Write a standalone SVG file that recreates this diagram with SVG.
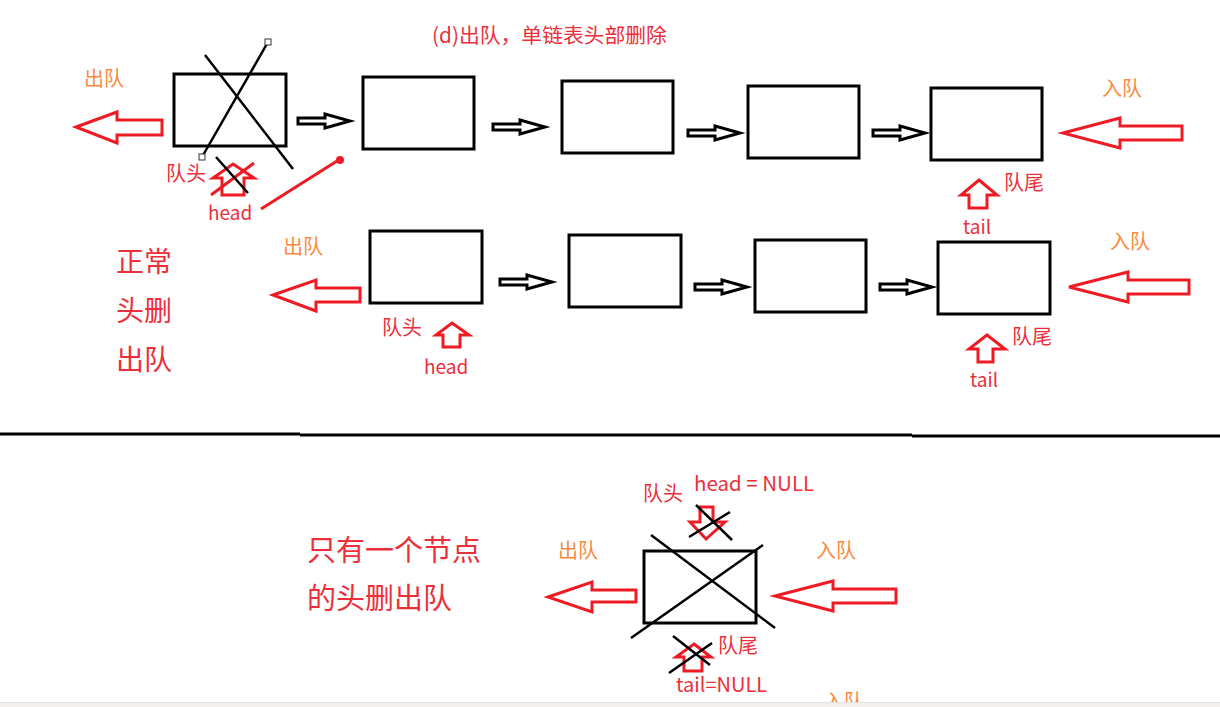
<svg xmlns="http://www.w3.org/2000/svg" xmlns:xlink="http://www.w3.org/1999/xlink" width="1220" height="707" viewBox="0 0 1220 707">
<style>
.box{fill:none;stroke:#000;stroke-width:3}
.barr{fill:#fff;stroke:#000;stroke-width:3;stroke-linejoin:miter}
.rarr{fill:#fff;stroke:#ed1c24;stroke-width:3;stroke-linejoin:miter}
.xl{stroke:#000;stroke-width:2.5;fill:none}
.rl{stroke:#ed1c24;stroke-width:3;fill:none}
.t{font-family:"Noto Sans CJK SC","Noto Sans",sans-serif}
.red{fill:#ec2f3b}
.org{fill:#fb8a3e}
.handle{fill:#fff;stroke:#333;stroke-width:1}
</style>
<defs>
<path id="barrow" d="M0,-3 H27 V-7 L52,0 L27,7 V3 H0 Z"/>
</defs>
<rect x="0" y="0" width="1220" height="707" fill="#fff"/>

<text id="title" class="t red" x="432" y="43" font-size="20.8">(d)出队，单链表头部删除</text>

<g id="row1-n1">
<rect class="box" x="174" y="74" width="112" height="72"/>
<line class="xl" x1="205" y1="55" x2="293" y2="169"/>
<line class="xl" x1="268" y1="42" x2="202" y2="157"/>
<rect class="handle" x="265" y="39" width="6" height="6"/>
<rect class="handle" x="199" y="154" width="6" height="6"/>
</g>
<g id="row1-n2"><rect class="box" x="363" y="77" width="111" height="72"/></g>
<g id="row1-n3"><rect class="box" x="562" y="81" width="111" height="72"/></g>
<g id="row1-n4"><rect class="box" x="748" y="86" width="111" height="72"/></g>
<g id="row1-n5"><rect class="box" x="931" y="88" width="111" height="72"/></g>

<g id="row2-n1"><rect class="box" x="370" y="231" width="112" height="72"/></g>
<g id="row2-n2"><rect class="box" x="569" y="235" width="112" height="72"/></g>
<g id="row2-n3"><rect class="box" x="755" y="240" width="111" height="72"/></g>
<g id="row2-n4"><rect class="box" x="938" y="242" width="112" height="72"/></g>

<g id="row3-n1">
<rect class="box" x="644" y="551" width="112" height="72"/>
<line class="xl" x1="651" y1="535" x2="775" y2="628"/>
<line class="xl" x1="631" y1="638" x2="763" y2="545"/>
</g>

<g id="connectors">
<use href="#barrow" class="barr" x="298" y="121"/>
<use href="#barrow" class="barr" x="493" y="127"/>
<use href="#barrow" class="barr" x="688" y="133"/>
<use href="#barrow" class="barr" x="873" y="133"/>
<use href="#barrow" class="barr" x="500" y="282"/>
<use href="#barrow" class="barr" x="695" y="287"/>
<use href="#barrow" class="barr" x="880" y="287"/>
</g>

<g id="row1-labels">
<text class="t org" x="84" y="86" font-size="20">出队</text>
<polygon class="rarr" points="76,127 117,112 117,120 162,120 162,135 117,135 117,143"/>
<text class="t org" x="1102" y="96" font-size="20">入队</text>
<polygon class="rarr" points="1063,133 1120,118 1120,126 1182,126 1182,140 1120,140 1120,148"/>
<text class="t red" x="166" y="181" font-size="20">队头</text>
<polygon class="rarr" points="233,164 254,178 244,178 244,195 222,195 222,178 213,178"/>
<line class="rl" x1="211" y1="195" x2="254" y2="163"/>
<line class="xl" x1="216" y1="157" x2="248" y2="193"/>
<text class="t red" x="208" y="220" font-size="19">head</text>
<line class="rl" x1="261" y1="209" x2="337" y2="161"/>
<circle cx="340" cy="160" r="4" fill="#ed1c24"/>
<polygon class="rarr" points="979,180 997,195 987,195 987,208 969,208 969,195 961,195"/>
<text class="t red" x="1004" y="190" font-size="20">队尾</text>
<text class="t red" x="963" y="234" font-size="19">tail</text>
</g>

<g id="row2-labels">
<text class="t red" x="116" y="272" font-size="28">正常</text>
<text class="t red" x="116" y="321" font-size="28">头删</text>
<text class="t red" x="116" y="370" font-size="28">出队</text>
<text class="t org" x="283" y="254" font-size="20">出队</text>
<polygon class="rarr" points="273,295 316,280 316,288 360,288 360,302 316,302 316,311"/>
<text class="t org" x="1110" y="249" font-size="20">入队</text>
<polygon class="rarr" points="1069,287 1128,272 1128,280 1189,280 1189,294 1128,294 1128,302"/>
<text class="t red" x="382" y="335" font-size="20">队头</text>
<polygon class="rarr" points="452,323 469,335 460,335 460,347 443,347 443,335 436,335"/>
<text class="t red" x="424" y="374" font-size="19">head</text>
<polygon class="rarr" points="987,335 1005,349 993,349 993,362 978,362 978,349 969,349"/>
<text class="t red" x="1012" y="344" font-size="20">队尾</text>
<text class="t red" x="970" y="387" font-size="19">tail</text>
</g>

<g id="divider">
<line x1="0" y1="434" x2="300" y2="434" stroke="#000" stroke-width="3"/>
<line x1="300" y1="435" x2="912" y2="435" stroke="#000" stroke-width="3"/>
<line x1="912" y1="436" x2="1220" y2="436" stroke="#000" stroke-width="3"/>
</g>

<g id="row3-labels">
<text class="t red" x="307" y="561" font-size="29">只有一个节点</text>
<text class="t red" x="307" y="609" font-size="29">的头删出队</text>
<text class="t org" x="558" y="558" font-size="20">出队</text>
<polygon class="rarr" points="548,597 592,582 592,590 636,590 636,602 592,602 592,612"/>
<text class="t org" x="816" y="558" font-size="20">入队</text>
<polygon class="rarr" points="775,596 833,581 833,589 896,589 896,603 833,603 833,611"/>
<text class="t red" x="643" y="501" font-size="20">队头</text>
<text class="t red" x="694" y="491" font-size="20.5">head = NULL</text>
<polygon class="rarr" points="700,507 713,507 713,522 725,522 706,539 690,522 700,522"/>
<line class="xl" x1="696" y1="505" x2="732" y2="540"/>
<line class="xl" x1="689" y1="537" x2="730" y2="512"/>
<polygon class="rarr" points="694,644 711,657 702,657 702,671 684,671 684,657 676,657"/>
<line class="xl" x1="673" y1="636" x2="710" y2="665"/>
<line class="xl" x1="669" y1="673" x2="712" y2="643"/>
<text class="t red" x="718" y="653" font-size="20">队尾</text>
<text class="t red" x="676" y="692" font-size="20">tail=NULL</text>
<text class="t org" x="824" y="709" font-size="20">入队</text>
</g>

<rect x="0" y="702" width="1220" height="5" fill="#f1f0ec"/>
<line x1="0" y1="702.5" x2="1220" y2="702.5" stroke="#e4e2dc" stroke-width="1"/>
</svg>
